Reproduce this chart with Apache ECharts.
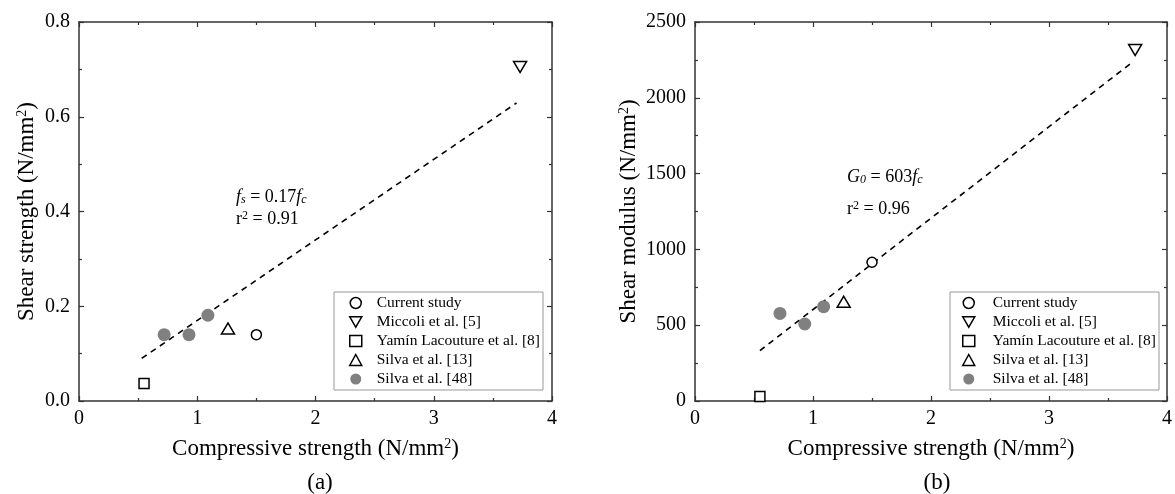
<!DOCTYPE html>
<html>
<head>
<meta charset="utf-8">
<script src="https://cdn.jsdelivr.net/npm/echarts@6/dist/echarts.min.js"></script>
<style>
html,body{margin:0;padding:0;background:#fff}
#main{width:1175px;height:494px}
</style>
</head>
<body>
<div id="main"></div>
<script>
// study names (legend)
var studyNames = ['Current study', 'Miccoli et al. [5]', 'Yamín Lacouture et al. [8]', 'Silva et al. [13]', 'Silva et al. [48]'];

// compressive strength fc (N/mm2), per study
var fcCurrent = [1.50];
var fcMiccoli = [3.73];
var fcYamin = [0.55];
var fcSilva13 = [1.26];
var fcSilva48 = [0.72, 0.93, 1.09];

// (a) shear strength fs (N/mm2)
var fsCurrent = [0.14];
var fsMiccoli = [0.705];
var fsYamin = [0.037];
var fsSilva13 = [0.153];
var fsSilva48 = [0.14, 0.14, 0.181];

// (b) shear modulus G0 (N/mm2)
var gCurrent = [915];
var gMiccoli = [2315];
var gYamin = [30];
var gSilva13 = [655];
var gSilva48 = [578, 508, 622];

// fitted lines, end points
var fitFcA = [0.53, 3.70];
var fitFsA = [0.090, 0.629];
var fitFcB = [0.55, 3.69];
var fitGB = [332, 2225];

var FONT = 'Liberation Serif';
var DOWN_TRI = 'path://M0,0L20,0L10,17.32Z';

function pairs(xs, ys) {
    var out = [];
    for (var i = 0; i < xs.length; i++) out.push([xs[i], ys[i]]);
    return out;
}

var chartDom = document.getElementById('main');
var myChart = echarts.init(chartDom);
var option;

var markers = [
    {symbol: 'circle', size: 10, color: '#fff', border: '#000', bw: 1.5},
    {symbol: DOWN_TRI, size: [13, 11], color: '#fff', border: '#000', bw: 1.5},
    {symbol: 'rect', size: 10, color: '#fff', border: '#000', bw: 1.5},
    {symbol: 'triangle', size: [13, 11], color: '#fff', border: '#000', bw: 1.5},
    {symbol: 'circle', size: 13, color: '#808080', border: '#808080', bw: 0}
];

var fcSets = [fcCurrent, fcMiccoli, fcYamin, fcSilva13, fcSilva48];
var panelY = [
    [fsCurrent, fsMiccoli, fsYamin, fsSilva13, fsSilva48],
    [gCurrent, gMiccoli, gYamin, gSilva13, gSilva48]
];

var axisLine = {show: true, onZero: false, lineStyle: {color: '#333', width: 1.5}};
var tickStyle = {color: '#333', width: 1.2};
var nameStyle = {color: '#000', fontFamily: FONT, fontSize: 23,
    rich: {sup: {fontSize: 14, verticalAlign: 'top', fontFamily: FONT, color: '#000'}}};

function xAxis(grid, pos, labelled) {
    var ax = {
        type: 'value', gridIndex: grid, position: pos, min: 0, max: 4, interval: 1,
        axisLine: axisLine,
        axisTick: {show: true, inside: true, length: 5, lineStyle: tickStyle},
        minorTick: {show: true, splitNumber: 2, length: 3, lineStyle: tickStyle},
        splitLine: {show: false},
        axisLabel: {show: labelled, margin: 8, color: '#000', fontFamily: FONT, fontSize: 20}
    };
    if (labelled) {
        ax.name = 'Compressive strength (N/mm{sup|2})';
        ax.nameLocation = 'middle';
        ax.nameGap = 36;
        ax.nameTextStyle = nameStyle;
    }
    return ax;
}

function yAxis(grid, pos, labelled, max, interval, name, gap, fmt) {
    var ax = {
        type: 'value', gridIndex: grid, position: pos, min: 0, max: max, interval: interval,
        axisLine: axisLine,
        axisTick: {show: true, inside: true, length: 5, lineStyle: tickStyle},
        minorTick: {show: true, splitNumber: 2, length: 3, lineStyle: tickStyle},
        splitLine: {show: false},
        axisLabel: {show: labelled, margin: 9, color: '#000', fontFamily: FONT, fontSize: 20, formatter: fmt}
    };
    if (labelled) {
        ax.name = name;
        ax.nameLocation = 'middle';
        ax.nameGap = gap;
        ax.nameTextStyle = nameStyle;
    }
    return ax;
}

var series = [];
var legendData = [];
for (var p = 0; p < 2; p++) {
    for (var s = 0; s < studyNames.length; s++) {
        var m = markers[s];
        series.push({
            name: studyNames[s],
            type: 'scatter',
            xAxisIndex: p * 2,
            yAxisIndex: p * 2,
            symbol: m.symbol,
            symbolSize: m.size,
            itemStyle: {color: m.color, borderColor: m.border, borderWidth: m.bw, opacity: 1},
            data: pairs(fcSets[s], panelY[p][s]),
            z: 3
        });
    }
}
for (var s2 = 0; s2 < studyNames.length; s2++) {
    var mk = markers[s2];
    legendData.push({
        name: studyNames[s2],
        icon: mk.symbol,
        itemStyle: {color: mk.color, borderColor: mk.border, borderWidth: mk.bw}
    });
}

series.push({
    type: 'line', xAxisIndex: 0, yAxisIndex: 0, symbol: 'none', silent: true,
    lineStyle: {color: '#000', width: 1.6, type: [6, 5]},
    data: pairs(fitFcA, fitFsA), z: 2
});
series.push({
    type: 'line', xAxisIndex: 2, yAxisIndex: 2, symbol: 'none', silent: true,
    lineStyle: {color: '#000', width: 1.6, type: [6, 5]},
    data: pairs(fitFcB, fitGB), z: 2
});

function legend(left, top, padLeft, textGap, textWidth) {
    return {
        orient: 'vertical', left: left, top: top,
        data: legendData,
        itemWidth: 12, itemHeight: 11, itemGap: 3,
        padding: [3, 3, 3, padLeft],
        borderColor: '#999', borderWidth: 1,
        selectedMode: false,
        textStyle: {color: '#000', fontFamily: FONT, fontSize: 15.5, width: textWidth,
            padding: [0, 0, 0, textGap]}
    };
}

var richEq = {
    i: {fontStyle: 'italic', fontFamily: FONT, fontSize: 18, color: '#000'},
    sub: {fontStyle: 'italic', fontFamily: FONT, fontSize: 12, verticalAlign: 'bottom', color: '#000'},
    sup: {fontFamily: FONT, fontSize: 12, verticalAlign: 'top', color: '#000'},
    n: {fontFamily: FONT, fontSize: 18, color: '#000'}
};

option = {
    backgroundColor: '#fff',
    animation: false,
    title: [
        {text: '(a)', left: 315, top: 466, textAlign: 'center',
            textStyle: {fontFamily: FONT, fontSize: 23, fontWeight: 'normal', color: '#000'}},
        {text: '(b)', left: 932, top: 466, textAlign: 'center',
            textStyle: {fontFamily: FONT, fontSize: 23, fontWeight: 'normal', color: '#000'}}
    ],
    grid: [
        {left: 79, top: 22, width: 473, height: 379},
        {left: 695, top: 22, width: 474, height: 379}
    ],
    xAxis: [
        xAxis(0, 'bottom', true), xAxis(0, 'top', false),
        xAxis(1, 'bottom', true), xAxis(1, 'top', false)
    ],
    yAxis: [
        yAxis(0, 'left', true, 0.8, 0.2, 'Shear strength (N/mm{sup|2})', 41, function (v) { return v.toFixed(1); }),
        yAxis(0, 'right', false, 0.8, 0.2),
        yAxis(1, 'left', true, 2500, 500, 'Shear modulus (N/mm{sup|2})', 55, function (v) { return String(v); }),
        yAxis(1, 'right', false, 2500, 500)
    ],
    legend: [legend(334, 292, 15, 10, 165), legend(950, 292, 12, 13, 173)],
    graphic: [
        {type: 'text', left: 236, top: 188, style: {text: '{i|f}{sub|s}{n| = 0.17}{i|f}{sub|c}', rich: richEq}},
        {type: 'text', left: 236, top: 210, style: {text: '{n|r}{sup|2}{n| = 0.91}', rich: richEq}},
        {type: 'text', left: 847, top: 168, style: {text: '{i|G}{sub|0}{n| = 603}{i|f}{sub|c}', rich: richEq}},
        {type: 'text', left: 847, top: 200, style: {text: '{n|r}{sup|2}{n| = 0.96}', rich: richEq}}
    ],
    series: series
};

option && myChart.setOption(option);
window.addEventListener("resize", function () {
    myChart.resize();
});
</script>
</body>
</html>
